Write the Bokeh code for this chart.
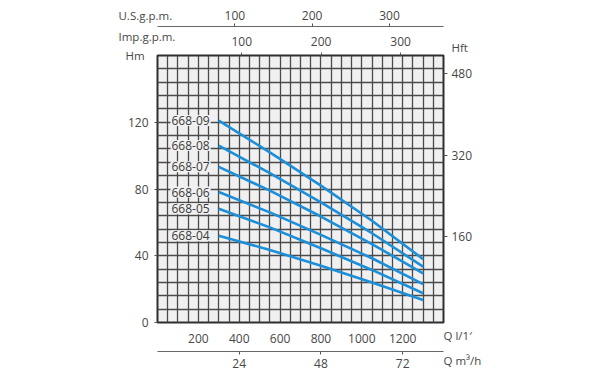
from bokeh.plotting import figure
from bokeh.models import LinearAxis, Range1d, FixedTicker, Label
from bokeh.embed import file_html
from bokeh.resources import INLINE

# ---- data ----
q_lmin = [300, 550, 800, 1050, 1300]
models = ["668-09", "668-08", "668-07", "668-06", "668-05", "668-04"]
h_09 = [121, 102, 82, 61, 38]
h_08 = [106, 89.5, 72, 53.5, 33.5]
h_07 = [93.3, 79, 63.5, 47, 29.5]
h_06 = [78.2, 66, 52.5, 38.5, 23]
h_05 = [68.2, 57, 44.5, 31.5, 17.5]
h_04 = [52, 43.5, 34, 24, 13.5]
series = [h_09, h_08, h_07, h_06, h_05, h_04]

lmin_ticks = [200, 400, 600, 800, 1000, 1200]
m3h_ticks = [24, 48, 72]
usgpm_ticks = [100, 200, 300]
impgpm_ticks = [100, 200, 300]
hm_ticks = [0, 40, 80, 120]
hft_ticks = [160, 320, 480]

FONT = "Open Sans"
TXT = "#474747"
BLUE = "#1b8fd9"
BG = "#f0f0f0"

p = figure(width=592, height=372, output_backend="svg", toolbar_location=None,
           title=None, x_range=Range1d(0, 1400), y_range=Range1d(0, 160),
           min_border_left=157, min_border_right=149, min_border_top=55,
           min_border_bottom=50)
p.background_fill_color = BG
p.border_fill_color = "white"
p.outline_line_color = "#2e2e2e"
p.outline_line_width = 2

p.extra_x_ranges = {"m3h": Range1d(0, 84), "us": Range1d(0, 1400 / 3.785),
                    "imp": Range1d(-6, 354)}
p.extra_y_ranges = {"ft": Range1d(-9, 516)}

# grid
p.xgrid.ticker = FixedTicker(ticks=list(range(0, 1401, 50)))
p.ygrid.ticker = FixedTicker(ticks=list(range(0, 161, 8)))
for g in (p.xgrid, p.ygrid):
    g.grid_line_color = "#4a4a4a"
    g.grid_line_width = 1.3


def style(ax, ticks, line=False, tick_out=3, standoff=3):
    ax.ticker = FixedTicker(ticks=ticks)
    ax.minor_tick_line_color = None
    ax.major_tick_in = 0
    ax.major_tick_out = tick_out
    ax.major_tick_line_color = "#555555"
    ax.major_label_standoff = standoff
    ax.major_label_text_font = FONT
    ax.major_label_text_font_size = "12px"
    ax.major_label_text_color = TXT
    ax.axis_line_color = "#666666" if line else None


# bottom axes
xa = p.xaxis[0]
style(xa, lmin_ticks, tick_out=0, standoff=11)
xa.major_tick_line_color = None
xa.axis_label = " "
xa.axis_label_text_font_size = "1px"
xa.axis_label_standoff = 2

m3 = LinearAxis(x_range_name="m3h")
style(m3, m3h_ticks, line=True, tick_out=3, standoff=4)
p.add_layout(m3, "below")

# top axes
imp = LinearAxis(x_range_name="imp")
style(imp, impgpm_ticks, tick_out=3, standoff=7)
imp.axis_label = " "
imp.axis_label_text_font_size = "1px"
imp.axis_label_standoff = 3
p.add_layout(imp, "above")

us = LinearAxis(x_range_name="us")
style(us, usgpm_ticks, line=True, tick_out=3, standoff=4)
p.add_layout(us, "above")

# left / right axes
ya = p.yaxis[0]
style(ya, hm_ticks, tick_out=3, standoff=6)

ft = LinearAxis(y_range_name="ft")
style(ft, hft_ticks, tick_out=4, standoff=4)
p.add_layout(ft, "right")

# curves
for h in series:
    p.line(q_lmin, h, line_color=BLUE, line_width=2.6)

# model labels
for name, h in zip(models, series):
    p.add_layout(Label(x=162, y=h[0], text=name, text_align="center",
                       text_baseline="middle", text_font=FONT,
                       text_font_size="12px", text_color="#3a3a3a",
                       background_fill_color=BG, padding=1))

# axis titles, placed in side panels so they are drawn outside the frame
titles = [("U.S.g.p.m.", -191, 184, "left"), ("Imp.g.p.m.", -191, 171.4, "left"),
          ("Hm", -157, 160, "right"), ("Hft", 1439, 164.8, "right"),
          ("Q l/1\u2032", 1400, -7.8, "right"), ("Q m\u00b3/h", 1400, -22.8, "right")]
for t, x, y, side in titles:
    p.add_layout(Label(x=x, y=y, text=t, text_align="left",
                       text_baseline="middle", text_font=FONT,
                       text_font_size="11.5px", text_color=TXT), side)

open("out.html", "w").write(file_html(p, INLINE))
